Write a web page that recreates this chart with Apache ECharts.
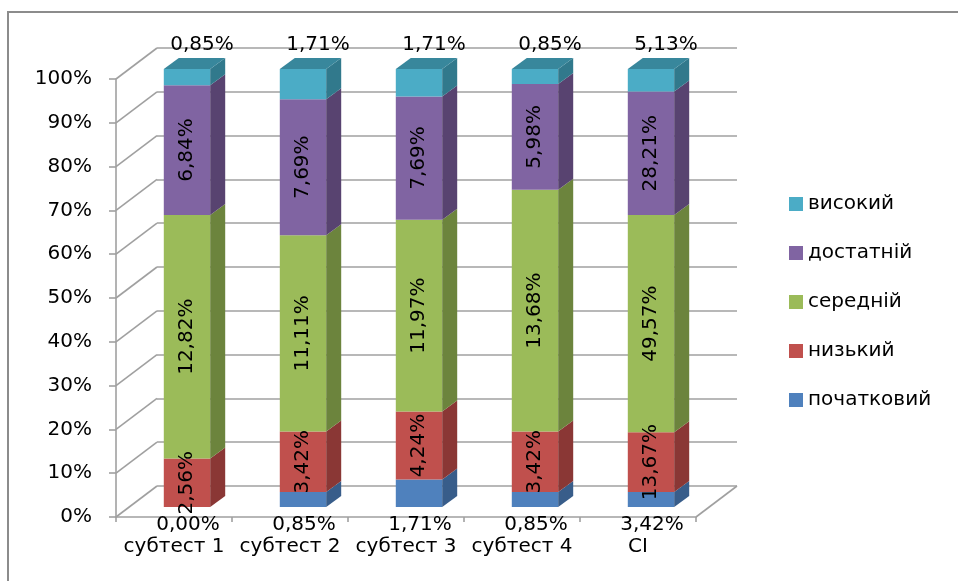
<!DOCTYPE html>
<html>
<head>
<meta charset="utf-8">
<script src="https://cdn.jsdelivr.net/npm/echarts/dist/echarts.min.js"></script>
<style>
  html, body { margin: 0; padding: 0; background: #fff; }
  #chart { width: 958px; height: 581px; }
</style>
</head>
<body>
<div id="chart"></div>
<script>
// Categories and levels
const categories = ['субтест 1', 'субтест 2', 'субтест 3', 'субтест 4', 'CI'];
const levelNames = ['початковий', 'низький', 'середній', 'достатній', 'високий'];

// Share of pupils at each level, %
const pochatkovyi = [0.00, 0.85, 1.71, 0.85, 3.42];
const nyzkyi      = [2.56, 3.42, 4.24, 3.42, 13.67];
const serednii    = [12.82, 11.11, 11.97, 13.68, 49.57];
const dostatnii   = [6.84, 7.69, 7.69, 5.98, 28.21];
const vysokyi     = [0.85, 1.71, 1.71, 0.85, 5.13];

// Value axis ticks (100 % stacked)
const yTicks = [0, 10, 20, 30, 40, 50, 60, 70, 80, 90, 100];

const levels = [pochatkovyi, nyzkyi, serednii, dostatnii, vysokyi];

const palette = [
  { front: '#4F81BD', side: '#385D8A', top: '#4573A8' },
  { front: '#C0504D', side: '#8A3735', top: '#A84542' },
  { front: '#9BBB59', side: '#6C843D', top: '#87A44C' },
  { front: '#8064A2', side: '#584370', top: '#6F578D' },
  { front: '#4BACC6', side: '#31798C', top: '#38879C' }
];

const FONT = '"DejaVu Sans", sans-serif';
const FS = 20;
// oblique offsets: bar depth and wall depth
const BAR_DX = 15, BAR_DY = -11;
const WALL_DX = 41, WALL_DY = -31;

// stacked shares per category (each column sums to 100 %)
const totals = categories.map((_, i) => levels.reduce((s, arr) => s + arr[i], 0));
const segments = levels.map((arr, lv) => arr.map((v, i) => {
  let lo = 0;
  for (let k = 0; k < lv; k++) lo += levels[k][i] / totals[i] * 100;
  const hi = lo + v / totals[i] * 100;
  return [i, lo, hi, lv, v];
}));

const fmt = v => v.toFixed(2).replace('.', ',') + '%';

function renderBar(params, api) {
  const cat = api.value(0), lo = api.value(1), hi = api.value(2), lv = api.value(3);
  if (hi - lo <= 0) return null;
  const pLo = api.coord([cat, lo]);
  const pHi = api.coord([cat, hi]);
  const w = api.size([1, 0])[0] * 0.4;
  const x0 = pLo[0] - w / 2, x1 = pLo[0] + w / 2;
  const c = palette[lv];
  const children = [
    { type: 'rect', shape: { x: x0, y: pHi[1], width: w, height: pLo[1] - pHi[1] },
      style: { fill: c.front } },
    { type: 'polygon', shape: { points: [[x1, pLo[1]], [x1 + BAR_DX, pLo[1] + BAR_DY],
        [x1 + BAR_DX, pHi[1] + BAR_DY], [x1, pHi[1]]] }, style: { fill: c.side } }
  ];
  if (hi >= 99.999) {
    children.push({ type: 'polygon', shape: { points: [[x0, pHi[1]], [x0 + BAR_DX, pHi[1] + BAR_DY],
      [x1 + BAR_DX, pHi[1] + BAR_DY], [x1, pHi[1]]] }, style: { fill: c.top } });
  }
  return { type: 'group', children };
}

function renderLabel(params, api) {
  const cat = api.value(0), lo = api.value(1), hi = api.value(2), lv = api.value(3), raw = api.value(4);
  const base = api.coord([cat, 0]);
  const cx = base[0];
  const style = { text: fmt(raw), fill: '#000', fontSize: FS, fontFamily: FONT,
    align: 'center', verticalAlign: 'middle' };
  if (lv === 0) {
    return { type: 'text', x: cx + 1, y: base[1] + 18, style };
  }
  if (lv === levels.length - 1) {
    const top = api.coord([cat, 100]);
    return { type: 'text', x: cx + 15, y: top[1] - 24, style };
  }
  const mid = api.coord([cat, (lo + hi) / 2]);
  return { type: 'text', x: cx, y: mid[1], rotation: Math.PI / 2, style };
}

// walls: diagonal tick lines from the front axis to the back wall, plus floor edge
function renderWalls(params, api) {
  const v = api.value(1);
  const cs = params.coordSys;
  const y = api.coord([0, v])[1];
  const x = cs.x;
  const lineStyle = { stroke: '#A0A0A0', lineWidth: 1.6, fill: null };
  const children = [
    { type: 'line', shape: { x1: x, y1: y, x2: x + WALL_DX, y2: y + WALL_DY }, style: lineStyle }
  ];
  if (v === 0) {
    const xr = cs.x + cs.width;
    children.push({ type: 'line', shape: { x1: xr, y1: y, x2: xr + WALL_DX, y2: y + WALL_DY }, style: lineStyle });
  }
  return { type: 'group', children };
}

const gridLineColor = '#A0A0A0';

const option = {
  animation: false,
  backgroundColor: '#fff',
  textStyle: { fontFamily: FONT },
  grid: [
    // front plane (axes)
    { left: 116, top: 79, width: 580, height: 438 },
    // bar plane
    { left: 129, top: 69, width: 580, height: 438 },
    // back wall
    { left: 116 + WALL_DX, top: 79 + WALL_DY, width: 580, height: 438 }
  ],
  xAxis: [
    { gridIndex: 0, type: 'category', data: categories,
      axisLine: { show: true, lineStyle: { color: gridLineColor, width: 1.6 } },
      axisTick: { show: true, length: 5, lineStyle: { color: gridLineColor, width: 1.6 } },
      axisLabel: { color: '#000', fontSize: FS, fontFamily: FONT, margin: 20, interval: 0,
        hideOverlap: false } },
    { gridIndex: 1, type: 'category', data: categories, show: false },
    { gridIndex: 2, type: 'category', data: categories, show: false }
  ],
  yAxis: [
    { gridIndex: 0, type: 'value', min: 0, max: 100, interval: 10,
      axisLine: { show: true, lineStyle: { color: gridLineColor, width: 1.6 } },
      axisTick: { show: true, length: 7, lineStyle: { color: gridLineColor, width: 1.6 } },
      splitLine: { show: false },
      axisLabel: { color: '#000', fontSize: FS, fontFamily: FONT, margin: 24,
        formatter: v => v + '%' } },
    { gridIndex: 1, type: 'value', min: 0, max: 100, interval: 10, show: false,
      splitLine: { show: false } },
    { gridIndex: 2, type: 'value', min: 0, max: 100, interval: 10,
      axisLine: { show: false }, axisTick: { show: false }, axisLabel: { show: false },
      splitLine: { show: true, lineStyle: { color: gridLineColor, width: 1.6 } } }
  ],
  legend: {
    orient: 'vertical',
    left: 789,
    top: 194,
    padding: 0,
    itemWidth: 14,
    itemHeight: 14,
    itemGap: 29,
    icon: 'rect',
    textStyle: { color: '#000', fontSize: FS, fontFamily: FONT },
    data: levelNames.slice().reverse()
  },
  graphic: [
    { type: 'polyline', silent: true,
      shape: { points: [[8, 700], [8, 12], [1100, 12]] },
      style: { stroke: '#8C8C8C', lineWidth: 2, fill: null } }
  ],
  series: [
    { type: 'custom', name: 'walls', xAxisIndex: 0, yAxisIndex: 0, z: 1, silent: true,
      renderItem: renderWalls, encode: { x: 0, y: 1 },
      data: yTicks.map(v => [0, v]) },
    ...levelNames.map((name, lv) => ({
      type: 'custom', name, xAxisIndex: 1, yAxisIndex: 1, z: 2,
      itemStyle: { color: palette[lv].front },
      renderItem: renderBar, encode: { x: 0, y: [1, 2] },
      data: segments[lv]
    })),
    { type: 'custom', name: 'labels', xAxisIndex: 1, yAxisIndex: 1, z: 10, silent: true,
      renderItem: renderLabel, encode: { x: 0, y: [1, 2] },
      data: segments.flat() }
  ]
};

const chart = echarts.init(document.getElementById('chart'), null, { renderer: 'canvas' });
chart.setOption(option);
</script>
</body>
</html>
